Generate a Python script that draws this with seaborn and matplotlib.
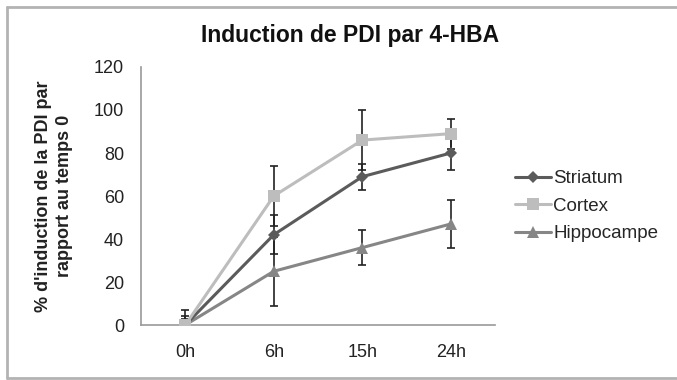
import matplotlib
matplotlib.use("Agg")
import matplotlib.pyplot as plt
import seaborn as sns
import pandas as pd
from matplotlib.lines import Line2D

# donnees
temps = ["0h", "6h", "15h", "24h"]
striatum = [0, 42, 69, 80]
striatum_err = [4, 9, 6, 8]
cortex = [0, 60, 86, 89]
cortex_err = [7, 14, 14, 7]
hippocampe = [0, 25, 36, 47]
hippocampe_err = [3, 16, 8, 11]

series = ["Striatum", "Cortex", "Hippocampe"]
couleurs = {"Striatum": "#5b5b5b", "Cortex": "#bdbdbd", "Hippocampe": "#868686"}
marqueurs = {"Striatum": "D", "Cortex": "s", "Hippocampe": "^"}
tailles = {"Striatum": 6, "Cortex": 8, "Hippocampe": 8.5}

sns.set_style("white")
plt.rcParams["font.family"] = ["Liberation Sans", "DejaVu Sans"]

df = pd.DataFrame({
    "temps": temps * 3,
    "valeur": striatum + cortex + hippocampe,
    "err": striatum_err + cortex_err + hippocampe_err,
    "tissu": [s for s in series for _ in temps],
})
df["x"] = df["temps"].map({t: i for i, t in enumerate(temps)})

fig = plt.figure(figsize=(6.77, 3.80), dpi=100)
ax = fig.add_axes([0.2083, 0.1447, 0.523, 0.679])

# barres d'erreur d'abord
for s in series:
    d = df[df["tissu"] == s]
    ax.errorbar(d["x"], d["valeur"], yerr=d["err"], fmt="none", ecolor="#222222",
                elinewidth=1.2, capsize=3, capthick=1.2, zorder=2)

for s in ["Hippocampe", "Striatum", "Cortex"]:
    d = df[df["tissu"] == s]
    sns.lineplot(data=d, x="x", y="valeur", ax=ax, color=couleurs[s], marker=marqueurs[s],
                 markersize=tailles[s], markeredgewidth=0, linewidth=2.2, label=s, zorder=3)

ax.set_xlim(-0.5, 3.5)
ax.set_ylim(0, 120)
ax.set_yticks(range(0, 121, 20))
ax.set_xticks(range(4))
ax.set_xticklabels(temps)
ax.set_xticks([0.5, 1.5, 2.5, 3.5], minor=True)
ax.tick_params(axis="x", which="major", length=0, pad=13.5, labelsize=13, labelcolor="#222222")
ax.tick_params(axis="x", which="minor", length=4, color="#999999", direction="out", width=1)
ax.tick_params(axis="y", length=4.3, color="#999999", direction="out", width=1, labelsize=13,
               labelcolor="#222222", pad=8)
ax.set_xlabel("")
ax.set_ylabel("% d'induction de la PDI par\nrapport au temps 0", fontsize=13, fontweight="bold",
              color="#222222", linespacing=1.3)
ax.yaxis.set_label_coords(-0.192, 0.5)
for sp in ["top", "right"]:
    ax.spines[sp].set_visible(False)
for sp in ["left", "bottom"]:
    ax.spines[sp].set_color("#999999")
    ax.spines[sp].set_linewidth(1.2)

handles, labels = ax.get_legend_handles_labels()
ordre = [labels.index(s) for s in series]
ax.legend([handles[i] for i in ordre], series, loc="center left", bbox_to_anchor=(1.035, 0.46),
          frameon=False, fontsize=13.5, handlelength=1.9, handletextpad=0.15, labelspacing=0.55,
          borderaxespad=0)

fig.text(0.517, 0.8895, "Induction de PDI par 4-HBA", ha="center", va="baseline", fontsize=16.5,
         fontweight="bold", color="#111111")

# cadre autour de la figure (pas de bord droit)
cadre = dict(transform=fig.transFigure, color="#b3b3b3", linewidth=2)
fig.lines.append(Line2D([0.0105, 0.0105], [0.005, 0.982], **cadre))
fig.lines.append(Line2D([0.0105, 1.0], [0.982, 0.982], **cadre))
fig.lines.append(Line2D([0.0105, 1.0], [0.005, 0.005], **cadre))

fig.savefig("out.png", dpi=100)
